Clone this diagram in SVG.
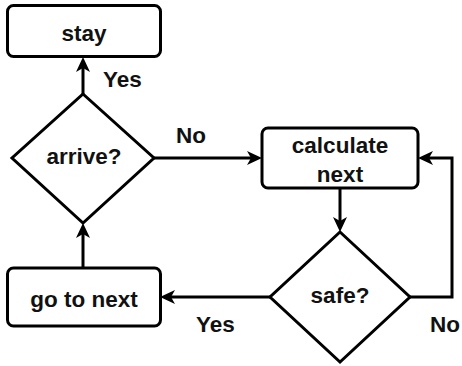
<svg xmlns="http://www.w3.org/2000/svg" width="462" height="366" viewBox="0 0 462 366">
<style>
.box{fill:#fff;stroke:#000;stroke-width:3}
.edge{fill:none;stroke:#000;stroke-width:3}
text{font-family:"Liberation Sans",Arial,sans-serif;font-weight:bold;font-size:22.5px;fill:#111}
.c{text-anchor:middle}
</style>
<defs>
<marker id="arr" viewBox="0 0 15 14" refX="9" refY="7" markerWidth="15" markerHeight="14" markerUnits="userSpaceOnUse" orient="auto">
<path d="M0,0 L15,7 L0,14 L4,7 Z" fill="#000"/>
</marker>
</defs>
<rect width="462" height="366" fill="#fff"/>
<g id="connectors">
<path class="edge" d="M83,94 V63" marker-end="url(#arr)"/>
<path class="edge" d="M154,158 H256" marker-end="url(#arr)"/>
<path class="edge" d="M340,188 V226" marker-end="url(#arr)"/>
<path class="edge" d="M410,297 H452 V158 H424" marker-end="url(#arr)"/>
<path class="edge" d="M270,297 H166" marker-end="url(#arr)"/>
<path class="edge" d="M83,268 V229" marker-end="url(#arr)"/>
<text x="103" y="87">Yes</text>
<text x="176" y="143">No</text>
<text x="196" y="332">Yes</text>
<text x="430" y="332">No</text>
</g>
<g id="stay">
<rect class="box" x="7.5" y="5.5" width="153" height="51" rx="6"/>
<text class="c" x="84" y="41">stay</text>
</g>
<g id="arrive">
<path class="box" d="M83,94 L154,158 L83,223 L12,158 Z"/>
<text class="c" x="84" y="164">arrive?</text>
</g>
<g id="calculate">
<rect class="box" x="262" y="128" width="156" height="60" rx="6"/>
<text class="c" x="340" y="153">calculate</text>
<text class="c" x="340" y="182">next</text>
</g>
<g id="safe">
<path class="box" d="M340,232 L410,297 L340,362 L270,297 Z"/>
<text class="c" x="340" y="303">safe?</text>
</g>
<g id="goto">
<rect class="box" x="7.5" y="268" width="153" height="58" rx="6"/>
<text class="c" x="84" y="307">go to next</text>
</g>
</svg>
